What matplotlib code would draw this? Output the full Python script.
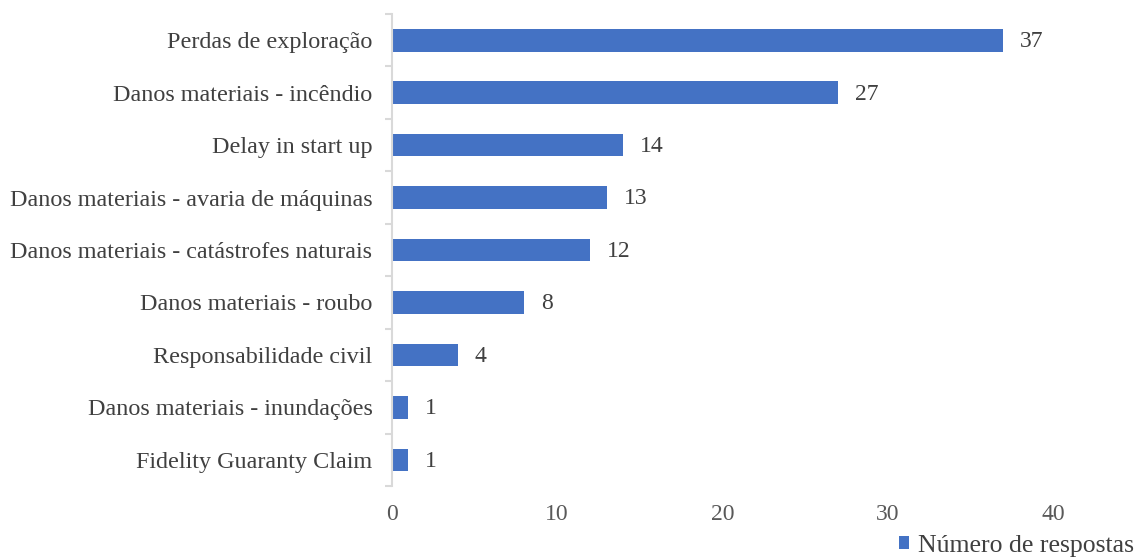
import matplotlib
matplotlib.use("Agg")
import matplotlib.pyplot as plt
from matplotlib.patches import Patch

categories = ["Perdas de exploração", "Danos materiais - incêndio", "Delay in start up",
              "Danos materiais - avaria de máquinas", "Danos materiais - catástrofes naturais",
              "Danos materiais - roubo", "Responsabilidade civil",
              "Danos materiais - inundações", "Fidelity Guaranty Claim"]
values = [37, 27, 14, 13, 12, 8, 4, 1, 1]
series_name = "Número de respostas"
xticks = [0, 10, 20, 30, 40]

bar_color = "#4472C4"
plt.rcParams['font.family'] = ['Liberation Serif', 'DejaVu Serif']

fig = plt.figure(figsize=(11.36, 5.6), dpi=100)
ax = fig.add_axes([0.345, 0.132, 0.582, 0.843])

ypos = list(range(len(categories)))[::-1]
ax.barh(ypos, values, height=0.43, color=bar_color, zorder=2)

for y, v in zip(ypos, values):
    ax.annotate(str(v), (v, y), xytext=(12, -1), textcoords="offset points",
                va="center", ha="left", fontsize=17, color="#404040")

ax.set_xlim(0, 40)
ax.set_ylim(-0.5, len(categories) - 0.5)
ax.set_xticks(xticks)
ax.set_xticklabels([str(t) for t in xticks])
ax.set_yticks(ypos)
ax.set_yticklabels(categories)
ax.set_yticks([i - 0.5 for i in range(len(categories) + 1)], minor=True)

for s in ["top", "right", "bottom"]:
    ax.spines[s].set_visible(False)
ax.spines["left"].set_color("#D9D9D9")
ax.spines["left"].set_linewidth(1.5)

ax.tick_params(axis="y", which="major", length=0, pad=14, labelsize=17.4, labelcolor="#404040")
ax.tick_params(axis="y", which="minor", length=5, width=1.5, color="#D9D9D9")
ax.tick_params(axis="x", length=0, pad=13, labelsize=17, labelcolor="#595959")

handle = Patch(facecolor=bar_color, label=series_name)
fig.legend(handles=[handle], loc="lower right", bbox_to_anchor=(1.019, -0.036), frameon=False,
           fontsize=18.5, handlelength=0.4, handleheight=0.4, handletextpad=0.35,
           labelcolor="#404040")

fig.savefig("out.png", dpi=100)
